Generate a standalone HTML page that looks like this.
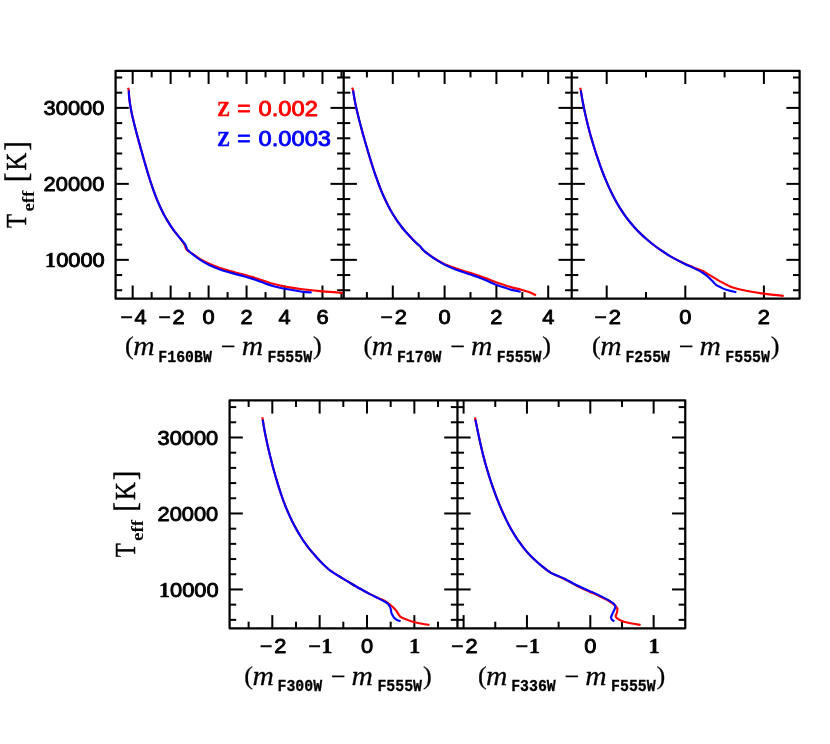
<!DOCTYPE html>
<html><head><meta charset="utf-8"><title>Teff vs colour</title>
<style>
html,body{margin:0;padding:0;background:#fff;}
body{width:830px;height:744px;overflow:hidden;font-family:"Liberation Sans",sans-serif;}
svg{display:block;}
</style></head><body>
<svg width="830" height="744" viewBox="0 0 830 744">
<rect width="830" height="744" fill="#fff"/>
<g fill="none" stroke="#000" stroke-width="2.25" stroke-linejoin="round">
<rect x="115.60" y="70.80" width="684.00" height="227.90"/>
<line stroke-linecap="butt" x1="343.70" y1="70.80" x2="343.70" y2="298.70"/>
<line stroke-linecap="butt" x1="571.70" y1="70.80" x2="571.70" y2="298.70"/>
</g>
<g fill="none" stroke="#000" stroke-width="2.25" stroke-linejoin="round">
<rect x="229.60" y="400.40" width="455.65" height="227.90"/>
<line stroke-linecap="butt" x1="457.45" y1="400.40" x2="457.45" y2="628.30"/>
</g>
<g stroke="#000" stroke-width="2.00" stroke-linecap="butt">
<line x1="115.60" y1="290.24" x2="122.20" y2="290.24"/>
<line x1="343.70" y1="290.24" x2="337.10" y2="290.24"/>
<line x1="115.60" y1="275.05" x2="122.20" y2="275.05"/>
<line x1="343.70" y1="275.05" x2="337.10" y2="275.05"/>
<line x1="115.60" y1="259.85" x2="128.80" y2="259.85"/>
<line x1="343.70" y1="259.85" x2="330.50" y2="259.85"/>
<line x1="115.60" y1="244.65" x2="122.20" y2="244.65"/>
<line x1="343.70" y1="244.65" x2="337.10" y2="244.65"/>
<line x1="115.60" y1="229.46" x2="122.20" y2="229.46"/>
<line x1="343.70" y1="229.46" x2="337.10" y2="229.46"/>
<line x1="115.60" y1="214.26" x2="122.20" y2="214.26"/>
<line x1="343.70" y1="214.26" x2="337.10" y2="214.26"/>
<line x1="115.60" y1="199.07" x2="122.20" y2="199.07"/>
<line x1="343.70" y1="199.07" x2="337.10" y2="199.07"/>
<line x1="115.60" y1="183.87" x2="128.80" y2="183.87"/>
<line x1="343.70" y1="183.87" x2="330.50" y2="183.87"/>
<line x1="115.60" y1="168.67" x2="122.20" y2="168.67"/>
<line x1="343.70" y1="168.67" x2="337.10" y2="168.67"/>
<line x1="115.60" y1="153.48" x2="122.20" y2="153.48"/>
<line x1="343.70" y1="153.48" x2="337.10" y2="153.48"/>
<line x1="115.60" y1="138.28" x2="122.20" y2="138.28"/>
<line x1="343.70" y1="138.28" x2="337.10" y2="138.28"/>
<line x1="115.60" y1="123.09" x2="122.20" y2="123.09"/>
<line x1="343.70" y1="123.09" x2="337.10" y2="123.09"/>
<line x1="115.60" y1="107.89" x2="128.80" y2="107.89"/>
<line x1="343.70" y1="107.89" x2="330.50" y2="107.89"/>
<line x1="115.60" y1="92.69" x2="122.20" y2="92.69"/>
<line x1="343.70" y1="92.69" x2="337.10" y2="92.69"/>
<line x1="115.60" y1="77.50" x2="122.20" y2="77.50"/>
<line x1="343.70" y1="77.50" x2="337.10" y2="77.50"/>
<line x1="343.70" y1="290.24" x2="350.30" y2="290.24"/>
<line x1="571.70" y1="290.24" x2="565.10" y2="290.24"/>
<line x1="343.70" y1="275.05" x2="350.30" y2="275.05"/>
<line x1="571.70" y1="275.05" x2="565.10" y2="275.05"/>
<line x1="343.70" y1="259.85" x2="356.90" y2="259.85"/>
<line x1="571.70" y1="259.85" x2="558.50" y2="259.85"/>
<line x1="343.70" y1="244.65" x2="350.30" y2="244.65"/>
<line x1="571.70" y1="244.65" x2="565.10" y2="244.65"/>
<line x1="343.70" y1="229.46" x2="350.30" y2="229.46"/>
<line x1="571.70" y1="229.46" x2="565.10" y2="229.46"/>
<line x1="343.70" y1="214.26" x2="350.30" y2="214.26"/>
<line x1="571.70" y1="214.26" x2="565.10" y2="214.26"/>
<line x1="343.70" y1="199.07" x2="350.30" y2="199.07"/>
<line x1="571.70" y1="199.07" x2="565.10" y2="199.07"/>
<line x1="343.70" y1="183.87" x2="356.90" y2="183.87"/>
<line x1="571.70" y1="183.87" x2="558.50" y2="183.87"/>
<line x1="343.70" y1="168.67" x2="350.30" y2="168.67"/>
<line x1="571.70" y1="168.67" x2="565.10" y2="168.67"/>
<line x1="343.70" y1="153.48" x2="350.30" y2="153.48"/>
<line x1="571.70" y1="153.48" x2="565.10" y2="153.48"/>
<line x1="343.70" y1="138.28" x2="350.30" y2="138.28"/>
<line x1="571.70" y1="138.28" x2="565.10" y2="138.28"/>
<line x1="343.70" y1="123.09" x2="350.30" y2="123.09"/>
<line x1="571.70" y1="123.09" x2="565.10" y2="123.09"/>
<line x1="343.70" y1="107.89" x2="356.90" y2="107.89"/>
<line x1="571.70" y1="107.89" x2="558.50" y2="107.89"/>
<line x1="343.70" y1="92.69" x2="350.30" y2="92.69"/>
<line x1="571.70" y1="92.69" x2="565.10" y2="92.69"/>
<line x1="343.70" y1="77.50" x2="350.30" y2="77.50"/>
<line x1="571.70" y1="77.50" x2="565.10" y2="77.50"/>
<line x1="571.70" y1="290.24" x2="578.30" y2="290.24"/>
<line x1="799.60" y1="290.24" x2="793.00" y2="290.24"/>
<line x1="571.70" y1="275.05" x2="578.30" y2="275.05"/>
<line x1="799.60" y1="275.05" x2="793.00" y2="275.05"/>
<line x1="571.70" y1="259.85" x2="584.90" y2="259.85"/>
<line x1="799.60" y1="259.85" x2="786.40" y2="259.85"/>
<line x1="571.70" y1="244.65" x2="578.30" y2="244.65"/>
<line x1="799.60" y1="244.65" x2="793.00" y2="244.65"/>
<line x1="571.70" y1="229.46" x2="578.30" y2="229.46"/>
<line x1="799.60" y1="229.46" x2="793.00" y2="229.46"/>
<line x1="571.70" y1="214.26" x2="578.30" y2="214.26"/>
<line x1="799.60" y1="214.26" x2="793.00" y2="214.26"/>
<line x1="571.70" y1="199.07" x2="578.30" y2="199.07"/>
<line x1="799.60" y1="199.07" x2="793.00" y2="199.07"/>
<line x1="571.70" y1="183.87" x2="584.90" y2="183.87"/>
<line x1="799.60" y1="183.87" x2="786.40" y2="183.87"/>
<line x1="571.70" y1="168.67" x2="578.30" y2="168.67"/>
<line x1="799.60" y1="168.67" x2="793.00" y2="168.67"/>
<line x1="571.70" y1="153.48" x2="578.30" y2="153.48"/>
<line x1="799.60" y1="153.48" x2="793.00" y2="153.48"/>
<line x1="571.70" y1="138.28" x2="578.30" y2="138.28"/>
<line x1="799.60" y1="138.28" x2="793.00" y2="138.28"/>
<line x1="571.70" y1="123.09" x2="578.30" y2="123.09"/>
<line x1="799.60" y1="123.09" x2="793.00" y2="123.09"/>
<line x1="571.70" y1="107.89" x2="584.90" y2="107.89"/>
<line x1="799.60" y1="107.89" x2="786.40" y2="107.89"/>
<line x1="571.70" y1="92.69" x2="578.30" y2="92.69"/>
<line x1="799.60" y1="92.69" x2="793.00" y2="92.69"/>
<line x1="571.70" y1="77.50" x2="578.30" y2="77.50"/>
<line x1="799.60" y1="77.50" x2="793.00" y2="77.50"/>
<line x1="229.60" y1="619.84" x2="236.20" y2="619.84"/>
<line x1="457.45" y1="619.84" x2="450.85" y2="619.84"/>
<line x1="229.60" y1="604.65" x2="236.20" y2="604.65"/>
<line x1="457.45" y1="604.65" x2="450.85" y2="604.65"/>
<line x1="229.60" y1="589.45" x2="242.80" y2="589.45"/>
<line x1="457.45" y1="589.45" x2="444.25" y2="589.45"/>
<line x1="229.60" y1="574.25" x2="236.20" y2="574.25"/>
<line x1="457.45" y1="574.25" x2="450.85" y2="574.25"/>
<line x1="229.60" y1="559.06" x2="236.20" y2="559.06"/>
<line x1="457.45" y1="559.06" x2="450.85" y2="559.06"/>
<line x1="229.60" y1="543.86" x2="236.20" y2="543.86"/>
<line x1="457.45" y1="543.86" x2="450.85" y2="543.86"/>
<line x1="229.60" y1="528.67" x2="236.20" y2="528.67"/>
<line x1="457.45" y1="528.67" x2="450.85" y2="528.67"/>
<line x1="229.60" y1="513.47" x2="242.80" y2="513.47"/>
<line x1="457.45" y1="513.47" x2="444.25" y2="513.47"/>
<line x1="229.60" y1="498.27" x2="236.20" y2="498.27"/>
<line x1="457.45" y1="498.27" x2="450.85" y2="498.27"/>
<line x1="229.60" y1="483.08" x2="236.20" y2="483.08"/>
<line x1="457.45" y1="483.08" x2="450.85" y2="483.08"/>
<line x1="229.60" y1="467.88" x2="236.20" y2="467.88"/>
<line x1="457.45" y1="467.88" x2="450.85" y2="467.88"/>
<line x1="229.60" y1="452.69" x2="236.20" y2="452.69"/>
<line x1="457.45" y1="452.69" x2="450.85" y2="452.69"/>
<line x1="229.60" y1="437.49" x2="242.80" y2="437.49"/>
<line x1="457.45" y1="437.49" x2="444.25" y2="437.49"/>
<line x1="229.60" y1="422.29" x2="236.20" y2="422.29"/>
<line x1="457.45" y1="422.29" x2="450.85" y2="422.29"/>
<line x1="229.60" y1="407.10" x2="236.20" y2="407.10"/>
<line x1="457.45" y1="407.10" x2="450.85" y2="407.10"/>
<line x1="457.45" y1="619.84" x2="464.05" y2="619.84"/>
<line x1="685.25" y1="619.84" x2="678.65" y2="619.84"/>
<line x1="457.45" y1="604.65" x2="464.05" y2="604.65"/>
<line x1="685.25" y1="604.65" x2="678.65" y2="604.65"/>
<line x1="457.45" y1="589.45" x2="470.65" y2="589.45"/>
<line x1="685.25" y1="589.45" x2="672.05" y2="589.45"/>
<line x1="457.45" y1="574.25" x2="464.05" y2="574.25"/>
<line x1="685.25" y1="574.25" x2="678.65" y2="574.25"/>
<line x1="457.45" y1="559.06" x2="464.05" y2="559.06"/>
<line x1="685.25" y1="559.06" x2="678.65" y2="559.06"/>
<line x1="457.45" y1="543.86" x2="464.05" y2="543.86"/>
<line x1="685.25" y1="543.86" x2="678.65" y2="543.86"/>
<line x1="457.45" y1="528.67" x2="464.05" y2="528.67"/>
<line x1="685.25" y1="528.67" x2="678.65" y2="528.67"/>
<line x1="457.45" y1="513.47" x2="470.65" y2="513.47"/>
<line x1="685.25" y1="513.47" x2="672.05" y2="513.47"/>
<line x1="457.45" y1="498.27" x2="464.05" y2="498.27"/>
<line x1="685.25" y1="498.27" x2="678.65" y2="498.27"/>
<line x1="457.45" y1="483.08" x2="464.05" y2="483.08"/>
<line x1="685.25" y1="483.08" x2="678.65" y2="483.08"/>
<line x1="457.45" y1="467.88" x2="464.05" y2="467.88"/>
<line x1="685.25" y1="467.88" x2="678.65" y2="467.88"/>
<line x1="457.45" y1="452.69" x2="464.05" y2="452.69"/>
<line x1="685.25" y1="452.69" x2="678.65" y2="452.69"/>
<line x1="457.45" y1="437.49" x2="470.65" y2="437.49"/>
<line x1="685.25" y1="437.49" x2="672.05" y2="437.49"/>
<line x1="457.45" y1="422.29" x2="464.05" y2="422.29"/>
<line x1="685.25" y1="422.29" x2="678.65" y2="422.29"/>
<line x1="457.45" y1="407.10" x2="464.05" y2="407.10"/>
<line x1="685.25" y1="407.10" x2="678.65" y2="407.10"/>
<line x1="132.68" y1="70.80" x2="132.68" y2="84.00"/>
<line x1="132.68" y1="298.70" x2="132.68" y2="285.50"/>
<line x1="151.66" y1="70.80" x2="151.66" y2="77.40"/>
<line x1="151.66" y1="298.70" x2="151.66" y2="292.10"/>
<line x1="170.64" y1="70.80" x2="170.64" y2="84.00"/>
<line x1="170.64" y1="298.70" x2="170.64" y2="285.50"/>
<line x1="189.62" y1="70.80" x2="189.62" y2="77.40"/>
<line x1="189.62" y1="298.70" x2="189.62" y2="292.10"/>
<line x1="208.60" y1="70.80" x2="208.60" y2="84.00"/>
<line x1="208.60" y1="298.70" x2="208.60" y2="285.50"/>
<line x1="227.58" y1="70.80" x2="227.58" y2="77.40"/>
<line x1="227.58" y1="298.70" x2="227.58" y2="292.10"/>
<line x1="246.56" y1="70.80" x2="246.56" y2="84.00"/>
<line x1="246.56" y1="298.70" x2="246.56" y2="285.50"/>
<line x1="265.54" y1="70.80" x2="265.54" y2="77.40"/>
<line x1="265.54" y1="298.70" x2="265.54" y2="292.10"/>
<line x1="284.52" y1="70.80" x2="284.52" y2="84.00"/>
<line x1="284.52" y1="298.70" x2="284.52" y2="285.50"/>
<line x1="303.50" y1="70.80" x2="303.50" y2="77.40"/>
<line x1="303.50" y1="298.70" x2="303.50" y2="292.10"/>
<line x1="322.48" y1="70.80" x2="322.48" y2="84.00"/>
<line x1="322.48" y1="298.70" x2="322.48" y2="285.50"/>
<line x1="341.46" y1="70.80" x2="341.46" y2="77.40"/>
<line x1="341.46" y1="298.70" x2="341.46" y2="292.10"/>
<line x1="366.90" y1="70.80" x2="366.90" y2="77.40"/>
<line x1="366.90" y1="298.70" x2="366.90" y2="292.10"/>
<line x1="392.80" y1="70.80" x2="392.80" y2="84.00"/>
<line x1="392.80" y1="298.70" x2="392.80" y2="285.50"/>
<line x1="418.70" y1="70.80" x2="418.70" y2="77.40"/>
<line x1="418.70" y1="298.70" x2="418.70" y2="292.10"/>
<line x1="444.60" y1="70.80" x2="444.60" y2="84.00"/>
<line x1="444.60" y1="298.70" x2="444.60" y2="285.50"/>
<line x1="470.50" y1="70.80" x2="470.50" y2="77.40"/>
<line x1="470.50" y1="298.70" x2="470.50" y2="292.10"/>
<line x1="496.40" y1="70.80" x2="496.40" y2="84.00"/>
<line x1="496.40" y1="298.70" x2="496.40" y2="285.50"/>
<line x1="522.30" y1="70.80" x2="522.30" y2="77.40"/>
<line x1="522.30" y1="298.70" x2="522.30" y2="292.10"/>
<line x1="548.20" y1="70.80" x2="548.20" y2="84.00"/>
<line x1="548.20" y1="298.70" x2="548.20" y2="285.50"/>
<line x1="606.70" y1="70.80" x2="606.70" y2="84.00"/>
<line x1="606.70" y1="298.70" x2="606.70" y2="285.50"/>
<line x1="646.00" y1="70.80" x2="646.00" y2="77.40"/>
<line x1="646.00" y1="298.70" x2="646.00" y2="292.10"/>
<line x1="685.30" y1="70.80" x2="685.30" y2="84.00"/>
<line x1="685.30" y1="298.70" x2="685.30" y2="285.50"/>
<line x1="724.60" y1="70.80" x2="724.60" y2="77.40"/>
<line x1="724.60" y1="298.70" x2="724.60" y2="292.10"/>
<line x1="763.90" y1="70.80" x2="763.90" y2="84.00"/>
<line x1="763.90" y1="298.70" x2="763.90" y2="285.50"/>
<line x1="248.62" y1="400.40" x2="248.62" y2="407.00"/>
<line x1="248.62" y1="628.30" x2="248.62" y2="621.70"/>
<line x1="272.30" y1="400.40" x2="272.30" y2="413.60"/>
<line x1="272.30" y1="628.30" x2="272.30" y2="615.10"/>
<line x1="295.98" y1="400.40" x2="295.98" y2="407.00"/>
<line x1="295.98" y1="628.30" x2="295.98" y2="621.70"/>
<line x1="319.65" y1="400.40" x2="319.65" y2="413.60"/>
<line x1="319.65" y1="628.30" x2="319.65" y2="615.10"/>
<line x1="343.32" y1="400.40" x2="343.32" y2="407.00"/>
<line x1="343.32" y1="628.30" x2="343.32" y2="621.70"/>
<line x1="367.00" y1="400.40" x2="367.00" y2="413.60"/>
<line x1="367.00" y1="628.30" x2="367.00" y2="615.10"/>
<line x1="390.68" y1="400.40" x2="390.68" y2="407.00"/>
<line x1="390.68" y1="628.30" x2="390.68" y2="621.70"/>
<line x1="414.35" y1="400.40" x2="414.35" y2="413.60"/>
<line x1="414.35" y1="628.30" x2="414.35" y2="615.10"/>
<line x1="438.02" y1="400.40" x2="438.02" y2="407.00"/>
<line x1="438.02" y1="628.30" x2="438.02" y2="621.70"/>
<line x1="463.60" y1="400.40" x2="463.60" y2="413.60"/>
<line x1="463.60" y1="628.30" x2="463.60" y2="615.10"/>
<line x1="495.27" y1="400.40" x2="495.27" y2="407.00"/>
<line x1="495.27" y1="628.30" x2="495.27" y2="621.70"/>
<line x1="526.95" y1="400.40" x2="526.95" y2="413.60"/>
<line x1="526.95" y1="628.30" x2="526.95" y2="615.10"/>
<line x1="558.62" y1="400.40" x2="558.62" y2="407.00"/>
<line x1="558.62" y1="628.30" x2="558.62" y2="621.70"/>
<line x1="590.30" y1="400.40" x2="590.30" y2="413.60"/>
<line x1="590.30" y1="628.30" x2="590.30" y2="615.10"/>
<line x1="621.97" y1="400.40" x2="621.97" y2="407.00"/>
<line x1="621.97" y1="628.30" x2="621.97" y2="621.70"/>
<line x1="653.65" y1="400.40" x2="653.65" y2="413.60"/>
<line x1="653.65" y1="628.30" x2="653.65" y2="615.10"/>
</g>
<g fill="none" stroke-width="2.15" stroke-linejoin="round" stroke-linecap="butt">
<path stroke="#ff0000" d="M128.05 87.70 C128.17 88.15 128.59 88.96 128.76 90.40 C128.94 91.84 128.92 94.36 129.09 96.34 C129.26 98.32 129.50 100.30 129.78 102.28 C130.05 104.26 130.39 106.24 130.75 108.22 C131.11 110.20 131.51 112.18 131.93 114.16 C132.35 116.14 132.81 118.12 133.28 120.10 C133.75 122.08 134.24 124.06 134.74 126.04 C135.24 128.02 135.76 130.00 136.28 131.98 C136.80 133.96 137.34 135.94 137.87 137.92 C138.41 139.90 138.95 141.88 139.50 143.86 C140.04 145.84 140.59 147.82 141.14 149.80 C141.70 151.78 142.25 153.76 142.81 155.74 C143.37 157.72 143.93 159.70 144.50 161.68 C145.07 163.66 145.64 165.64 146.22 167.62 C146.80 169.60 147.38 171.58 147.99 173.56 C148.59 175.54 149.20 177.52 149.83 179.50 C150.46 181.48 151.10 183.46 151.77 185.44 C152.44 187.42 153.12 189.40 153.84 191.38 C154.56 193.36 155.30 195.34 156.09 197.32 C156.87 199.30 157.69 201.28 158.55 203.26 C159.41 205.24 160.31 207.22 161.27 209.20 C162.23 211.18 163.23 213.16 164.30 215.14 C165.37 217.12 166.49 219.10 167.69 221.08 C168.89 223.06 170.15 225.04 171.50 227.02 C172.85 229.00 174.27 230.98 175.78 232.96 C177.30 234.94 179.12 236.89 180.60 238.90 C182.09 240.91 183.68 243.17 184.70 245.00 C185.72 246.83 185.38 248.42 186.70 249.90 C188.02 251.38 190.28 252.32 192.60 253.90 C194.92 255.48 197.92 257.82 200.60 259.40 C203.28 260.98 205.47 261.98 208.70 263.40 C211.93 264.82 216.45 266.62 220.00 267.90 C223.55 269.18 224.72 269.62 230.00 271.10 C235.28 272.58 244.72 274.73 251.70 276.80 C258.68 278.87 265.88 281.78 271.90 283.50 C277.92 285.22 282.73 286.13 287.80 287.10 C292.87 288.07 296.52 288.58 302.30 289.30 C308.08 290.02 315.73 290.80 322.50 291.40 C329.27 292.00 339.50 292.65 342.90 292.90"/>
<path stroke="#0000ff" d="M128.76 90.40 C128.82 91.39 128.92 94.36 129.09 96.34 C129.26 98.32 129.50 100.30 129.78 102.28 C130.05 104.26 130.39 106.24 130.75 108.22 C131.11 110.20 131.51 112.18 131.93 114.16 C132.35 116.14 132.81 118.12 133.28 120.10 C133.75 122.08 134.24 124.06 134.74 126.04 C135.24 128.02 135.76 130.00 136.28 131.98 C136.80 133.96 137.34 135.94 137.87 137.92 C138.41 139.90 138.95 141.88 139.50 143.86 C140.04 145.84 140.59 147.82 141.14 149.80 C141.70 151.78 142.25 153.76 142.81 155.74 C143.37 157.72 143.93 159.70 144.50 161.68 C145.07 163.66 145.64 165.64 146.22 167.62 C146.80 169.60 147.38 171.58 147.99 173.56 C148.59 175.54 149.20 177.52 149.83 179.50 C150.46 181.48 151.10 183.46 151.77 185.44 C152.44 187.42 153.12 189.40 153.84 191.38 C154.56 193.36 155.30 195.34 156.09 197.32 C156.87 199.30 157.69 201.28 158.55 203.26 C159.41 205.24 160.31 207.22 161.27 209.20 C162.23 211.18 163.23 213.16 164.30 215.14 C165.37 217.12 166.49 219.10 167.69 221.08 C168.89 223.06 170.15 225.04 171.50 227.02 C172.85 229.00 174.27 230.98 175.78 232.96 C177.30 234.94 179.02 236.98 180.60 238.90 C182.19 240.82 184.17 242.70 185.30 244.50 C186.43 246.30 186.18 248.08 187.40 249.70 C188.62 251.32 190.40 252.45 192.60 254.20 C194.80 255.95 197.92 258.45 200.60 260.20 C203.28 261.95 205.47 263.15 208.70 264.70 C211.93 266.25 216.45 268.18 220.00 269.50 C223.55 270.82 225.92 271.43 230.00 272.60 C234.08 273.77 240.17 275.28 244.50 276.50 C248.83 277.72 251.43 278.37 256.00 279.90 C260.57 281.43 266.60 284.13 271.90 285.70 C277.20 287.27 282.73 288.30 287.80 289.30 C292.87 290.30 298.32 291.17 302.30 291.70 C306.28 292.23 310.13 292.37 311.70 292.50"/>
<path stroke="#ff0000" d="M352.10 87.70 C352.27 88.15 352.79 88.98 353.11 90.40 C353.43 91.83 353.68 94.30 354.01 96.25 C354.34 98.20 354.71 100.15 355.09 102.10 C355.48 104.05 355.89 106.00 356.32 107.95 C356.75 109.90 357.21 111.85 357.67 113.80 C358.14 115.75 358.62 117.70 359.12 119.65 C359.61 121.60 360.12 123.55 360.64 125.50 C361.15 127.45 361.68 129.40 362.21 131.35 C362.75 133.30 363.29 135.25 363.84 137.20 C364.39 139.15 364.94 141.10 365.50 143.05 C366.06 145.00 366.63 146.95 367.20 148.90 C367.77 150.85 368.35 152.80 368.94 154.75 C369.53 156.70 370.12 158.65 370.73 160.60 C371.33 162.55 371.94 164.50 372.57 166.45 C373.20 168.40 373.83 170.35 374.49 172.30 C375.14 174.25 375.81 176.20 376.50 178.15 C377.19 180.10 377.90 182.05 378.63 184.00 C379.37 185.95 380.13 187.90 380.92 189.85 C381.71 191.80 382.53 193.75 383.39 195.70 C384.26 197.65 385.15 199.60 386.09 201.55 C387.04 203.50 388.02 205.45 389.07 207.40 C390.11 209.35 391.20 211.30 392.36 213.25 C393.53 215.20 394.74 217.15 396.04 219.10 C397.33 221.05 398.69 223.00 400.15 224.95 C401.60 226.90 402.37 228.08 404.76 230.80 C407.15 233.53 412.06 238.80 414.50 241.30 C416.94 243.80 417.92 244.32 419.40 245.80 C420.88 247.28 421.90 248.80 423.40 250.20 C424.90 251.60 426.15 252.57 428.40 254.20 C430.65 255.83 434.08 258.28 436.90 260.00 C439.72 261.72 442.50 263.23 445.30 264.50 C448.10 265.77 450.88 266.62 453.70 267.60 C456.52 268.58 459.38 269.48 462.20 270.40 C465.02 271.32 467.80 272.20 470.60 273.10 C473.40 274.00 476.18 274.85 479.00 275.80 C481.82 276.75 484.68 277.73 487.50 278.80 C490.32 279.87 493.10 281.17 495.90 282.20 C498.70 283.23 501.50 284.10 504.30 285.00 C507.10 285.90 509.88 286.82 512.70 287.60 C515.52 288.38 518.38 288.92 521.20 289.70 C524.02 290.48 527.13 291.35 529.60 292.30 C532.07 293.25 534.93 294.88 536.00 295.40"/>
<path stroke="#0000ff" d="M353.11 90.40 C353.26 91.38 353.68 94.30 354.01 96.25 C354.34 98.20 354.71 100.15 355.09 102.10 C355.48 104.05 355.89 106.00 356.32 107.95 C356.75 109.90 357.21 111.85 357.67 113.80 C358.14 115.75 358.62 117.70 359.12 119.65 C359.61 121.60 360.12 123.55 360.64 125.50 C361.15 127.45 361.68 129.40 362.21 131.35 C362.75 133.30 363.29 135.25 363.84 137.20 C364.39 139.15 364.94 141.10 365.50 143.05 C366.06 145.00 366.63 146.95 367.20 148.90 C367.77 150.85 368.35 152.80 368.94 154.75 C369.53 156.70 370.12 158.65 370.73 160.60 C371.33 162.55 371.94 164.50 372.57 166.45 C373.20 168.40 373.83 170.35 374.49 172.30 C375.14 174.25 375.81 176.20 376.50 178.15 C377.19 180.10 377.90 182.05 378.63 184.00 C379.37 185.95 380.13 187.90 380.92 189.85 C381.71 191.80 382.53 193.75 383.39 195.70 C384.26 197.65 385.15 199.60 386.09 201.55 C387.04 203.50 388.02 205.45 389.07 207.40 C390.11 209.35 391.20 211.30 392.36 213.25 C393.53 215.20 394.74 217.15 396.04 219.10 C397.33 221.05 398.69 223.00 400.15 224.95 C401.60 226.90 402.37 228.08 404.76 230.80 C407.15 233.53 412.06 238.83 414.50 241.30 C416.94 243.77 417.92 244.12 419.40 245.60 C420.88 247.08 421.90 248.75 423.40 250.20 C424.90 251.65 426.15 252.63 428.40 254.30 C430.65 255.97 434.08 258.42 436.90 260.20 C439.72 261.98 442.50 263.58 445.30 265.00 C448.10 266.42 450.88 267.58 453.70 268.70 C456.52 269.82 459.38 270.72 462.20 271.70 C465.02 272.68 467.80 273.65 470.60 274.60 C473.40 275.55 476.18 276.33 479.00 277.40 C481.82 278.47 484.68 279.78 487.50 281.00 C490.32 282.22 493.10 283.60 495.90 284.70 C498.70 285.80 501.50 286.70 504.30 287.60 C507.10 288.50 509.97 289.40 512.70 290.10 C515.43 290.80 519.37 291.52 520.70 291.80"/>
<path stroke="#ff0000" d="M580.15 87.70 C580.26 88.15 580.55 88.96 580.81 90.40 C581.08 91.84 581.42 94.36 581.76 96.34 C582.09 98.31 582.44 100.29 582.81 102.27 C583.18 104.25 583.57 106.23 583.97 108.21 C584.38 110.19 584.80 112.16 585.24 114.14 C585.68 116.12 586.14 118.10 586.61 120.08 C587.08 122.06 587.57 124.04 588.08 126.01 C588.58 127.99 589.10 129.97 589.64 131.95 C590.17 133.93 590.72 135.91 591.29 137.89 C591.85 139.86 592.43 141.84 593.03 143.82 C593.62 145.80 594.23 147.78 594.85 149.76 C595.48 151.74 596.11 153.71 596.77 155.69 C597.43 157.67 598.10 159.65 598.78 161.63 C599.47 163.61 600.18 165.59 600.91 167.56 C601.63 169.54 602.38 171.52 603.15 173.50 C603.92 175.48 604.71 177.46 605.53 179.44 C606.36 181.41 607.20 183.39 608.08 185.37 C608.97 187.35 609.88 189.33 610.83 191.31 C611.78 193.29 612.77 195.26 613.81 197.24 C614.85 199.22 615.93 201.20 617.07 203.18 C618.22 205.16 619.40 207.14 620.67 209.11 C621.93 211.09 623.25 213.07 624.66 215.05 C626.07 217.03 627.54 219.01 629.12 220.99 C630.69 222.96 632.34 224.94 634.12 226.92 C635.89 228.90 637.75 230.88 639.76 232.86 C641.76 234.84 643.87 236.81 646.14 238.79 C648.41 240.77 650.80 242.75 653.37 244.73 C655.94 246.71 658.66 248.69 661.58 250.66 C664.50 252.64 667.18 254.49 670.90 256.60 C674.62 258.71 680.13 261.50 683.90 263.30 C687.67 265.10 690.07 265.97 693.50 267.40 C696.93 268.83 701.80 270.60 704.50 271.90 C707.20 273.20 707.30 273.75 709.70 275.20 C712.10 276.65 715.32 278.65 718.90 280.60 C722.48 282.55 726.38 285.17 731.20 286.90 C736.02 288.63 742.62 289.92 747.80 291.00 C752.98 292.08 757.95 292.75 762.30 293.40 C766.65 294.05 770.33 294.48 773.90 294.90 C777.47 295.32 782.07 295.73 783.70 295.90"/>
<path stroke="#0000ff" d="M580.81 90.40 C580.97 91.39 581.42 94.36 581.76 96.34 C582.09 98.31 582.44 100.29 582.81 102.27 C583.18 104.25 583.57 106.23 583.97 108.21 C584.38 110.19 584.80 112.16 585.24 114.14 C585.68 116.12 586.14 118.10 586.61 120.08 C587.08 122.06 587.57 124.04 588.08 126.01 C588.58 127.99 589.10 129.97 589.64 131.95 C590.17 133.93 590.72 135.91 591.29 137.89 C591.85 139.86 592.43 141.84 593.03 143.82 C593.62 145.80 594.23 147.78 594.85 149.76 C595.48 151.74 596.11 153.71 596.77 155.69 C597.43 157.67 598.10 159.65 598.78 161.63 C599.47 163.61 600.18 165.59 600.91 167.56 C601.63 169.54 602.38 171.52 603.15 173.50 C603.92 175.48 604.71 177.46 605.53 179.44 C606.36 181.41 607.20 183.39 608.08 185.37 C608.97 187.35 609.88 189.33 610.83 191.31 C611.78 193.29 612.77 195.26 613.81 197.24 C614.85 199.22 615.93 201.20 617.07 203.18 C618.22 205.16 619.40 207.14 620.67 209.11 C621.93 211.09 623.25 213.07 624.66 215.05 C626.07 217.03 627.54 219.01 629.12 220.99 C630.69 222.96 632.34 224.94 634.12 226.92 C635.89 228.90 637.75 230.88 639.76 232.86 C641.76 234.84 643.87 236.81 646.14 238.79 C648.41 240.77 650.80 242.75 653.37 244.73 C655.94 246.71 658.66 248.69 661.58 250.66 C664.50 252.64 667.18 254.46 670.90 256.60 C674.62 258.74 680.13 261.62 683.90 263.50 C687.67 265.38 690.43 266.40 693.50 267.90 C696.57 269.40 700.00 271.13 702.30 272.50 C704.60 273.87 705.53 274.58 707.30 276.10 C709.07 277.62 711.45 280.15 712.90 281.60 C714.35 283.05 714.82 283.90 716.00 284.80 C717.18 285.70 718.32 286.17 720.00 287.00 C721.68 287.83 723.38 288.92 726.10 289.80 C728.82 290.68 734.60 291.88 736.30 292.30"/>
<path stroke="#ff0000" d="M262.25 417.30 C262.33 417.68 262.49 418.25 262.72 419.60 C262.95 420.95 263.30 423.48 263.62 425.42 C263.95 427.36 264.30 429.30 264.66 431.24 C265.03 433.18 265.41 435.12 265.81 437.05 C266.21 438.99 266.62 440.93 267.05 442.87 C267.48 444.81 267.92 446.75 268.37 448.69 C268.82 450.63 269.28 452.57 269.76 454.51 C270.23 456.45 270.71 458.39 271.21 460.33 C271.70 462.27 272.20 464.21 272.72 466.15 C273.23 468.08 273.76 470.02 274.29 471.96 C274.83 473.90 275.38 475.84 275.94 477.78 C276.51 479.72 277.08 481.66 277.67 483.60 C278.27 485.54 278.87 487.48 279.50 489.42 C280.13 491.36 280.77 493.30 281.44 495.24 C282.12 497.18 282.80 499.12 283.52 501.05 C284.24 502.99 284.98 504.93 285.76 506.87 C286.54 508.81 287.34 510.75 288.18 512.69 C289.03 514.63 289.90 516.57 290.82 518.51 C291.74 520.45 292.70 522.39 293.70 524.33 C294.71 526.27 295.76 528.21 296.86 530.15 C297.97 532.08 299.12 534.02 300.34 535.96 C301.56 537.90 302.82 539.84 304.17 541.78 C305.51 543.72 306.46 545.18 308.38 547.60 C310.30 550.02 313.36 553.63 315.70 556.30 C318.04 558.97 320.20 561.40 322.40 563.60 C324.60 565.80 326.82 567.82 328.90 569.50 C330.98 571.18 332.68 572.27 334.90 573.70 C337.12 575.13 339.63 576.55 342.20 578.10 C344.77 579.65 347.30 581.22 350.30 583.00 C353.30 584.78 356.93 586.95 360.20 588.80 C363.47 590.65 366.83 592.53 369.90 594.10 C372.97 595.67 376.33 597.18 378.60 598.20 C380.87 599.22 381.93 599.37 383.50 600.20 C385.07 601.03 386.12 601.73 388.00 603.20 C389.88 604.67 393.03 607.15 394.80 609.00 C396.57 610.85 397.75 613.08 398.60 614.30 C399.45 615.52 399.40 615.78 399.90 616.30 C400.40 616.82 400.28 616.80 401.60 617.40 C402.92 618.00 405.55 619.08 407.80 619.90 C410.05 620.72 412.68 621.65 415.10 622.30 C417.52 622.95 419.90 623.37 422.30 623.80 C424.70 624.23 428.30 624.72 429.50 624.90"/>
<path stroke="#0000ff" d="M262.72 419.60 C262.87 420.57 263.30 423.48 263.62 425.42 C263.95 427.36 264.30 429.30 264.66 431.24 C265.03 433.18 265.41 435.12 265.81 437.05 C266.21 438.99 266.62 440.93 267.05 442.87 C267.48 444.81 267.92 446.75 268.37 448.69 C268.82 450.63 269.28 452.57 269.76 454.51 C270.23 456.45 270.71 458.39 271.21 460.33 C271.70 462.27 272.20 464.21 272.72 466.15 C273.23 468.08 273.76 470.02 274.29 471.96 C274.83 473.90 275.38 475.84 275.94 477.78 C276.51 479.72 277.08 481.66 277.67 483.60 C278.27 485.54 278.87 487.48 279.50 489.42 C280.13 491.36 280.77 493.30 281.44 495.24 C282.12 497.18 282.80 499.12 283.52 501.05 C284.24 502.99 284.98 504.93 285.76 506.87 C286.54 508.81 287.34 510.75 288.18 512.69 C289.03 514.63 289.90 516.57 290.82 518.51 C291.74 520.45 292.70 522.39 293.70 524.33 C294.71 526.27 295.76 528.21 296.86 530.15 C297.97 532.08 299.12 534.02 300.34 535.96 C301.56 537.90 302.82 539.84 304.17 541.78 C305.51 543.72 306.46 545.18 308.38 547.60 C310.30 550.02 313.36 553.63 315.70 556.30 C318.04 558.97 320.20 561.40 322.40 563.60 C324.60 565.80 326.82 567.82 328.90 569.50 C330.98 571.18 332.68 572.27 334.90 573.70 C337.12 575.13 339.63 576.55 342.20 578.10 C344.77 579.65 347.30 581.22 350.30 583.00 C353.30 584.78 356.93 586.95 360.20 588.80 C363.47 590.65 366.83 592.50 369.90 594.10 C372.97 595.70 376.15 597.15 378.60 598.40 C381.05 599.65 383.03 600.67 384.60 601.60 C386.17 602.53 387.07 603.03 388.00 604.00 C388.93 604.97 389.70 606.32 390.20 607.40 C390.70 608.48 390.77 609.50 391.00 610.50 C391.23 611.50 391.08 612.20 391.60 613.40 C392.12 614.60 393.20 616.60 394.10 617.70 C395.00 618.80 395.92 619.40 397.00 620.00 C398.08 620.60 400.00 621.08 400.60 621.30"/>
<path stroke="#ff0000" d="M475.05 417.30 C475.11 417.68 475.13 418.24 475.38 419.60 C475.64 420.96 476.19 423.49 476.59 425.44 C476.99 427.39 477.38 429.33 477.78 431.28 C478.18 433.23 478.58 435.17 478.99 437.12 C479.40 439.07 479.82 441.01 480.25 442.96 C480.69 444.91 481.13 446.85 481.59 448.80 C482.05 450.75 482.52 452.69 483.01 454.64 C483.50 456.59 484.01 458.53 484.53 460.48 C485.06 462.43 485.60 464.37 486.16 466.32 C486.72 468.27 487.29 470.21 487.89 472.16 C488.48 474.11 489.09 476.05 489.72 478.00 C490.35 479.95 490.99 481.89 491.66 483.84 C492.32 485.79 493.00 487.73 493.70 489.68 C494.40 491.63 495.11 493.57 495.85 495.52 C496.58 497.47 497.33 499.41 498.11 501.36 C498.89 503.31 499.68 505.25 500.50 507.20 C501.33 509.15 502.17 511.09 503.05 513.04 C503.92 514.99 504.82 516.93 505.77 518.88 C506.71 520.83 507.68 522.77 508.70 524.72 C509.73 526.67 510.78 528.61 511.90 530.56 C513.03 532.51 514.19 534.45 515.44 536.40 C516.68 538.35 517.98 540.29 519.37 542.24 C520.77 544.19 522.23 546.13 523.81 548.08 C525.39 550.03 527.05 551.97 528.86 553.92 C530.66 555.87 532.56 557.81 534.64 559.76 C536.71 561.71 538.58 563.41 541.31 565.60 C544.03 567.79 547.23 570.70 551.00 572.90 C554.77 575.10 559.60 576.65 563.90 578.80 C568.20 580.95 572.50 583.62 576.80 585.80 C581.10 587.98 586.75 590.55 589.70 591.90 C592.65 593.25 591.30 592.37 594.50 593.90 C597.70 595.43 605.65 599.30 608.90 601.10 C612.15 602.90 612.60 603.50 614.00 604.70 C615.40 605.90 616.82 606.98 617.30 608.30 C617.78 609.62 617.13 611.15 616.90 612.60 C616.67 614.05 615.07 615.62 615.90 617.00 C616.73 618.38 619.45 619.87 621.90 620.90 C624.35 621.93 627.48 622.52 630.60 623.20 C633.72 623.88 638.93 624.70 640.60 625.00"/>
<path stroke="#0000ff" d="M475.38 419.60 C475.58 420.57 476.19 423.49 476.59 425.44 C476.99 427.39 477.38 429.33 477.78 431.28 C478.18 433.23 478.58 435.17 478.99 437.12 C479.40 439.07 479.82 441.01 480.25 442.96 C480.69 444.91 481.13 446.85 481.59 448.80 C482.05 450.75 482.52 452.69 483.01 454.64 C483.50 456.59 484.01 458.53 484.53 460.48 C485.06 462.43 485.60 464.37 486.16 466.32 C486.72 468.27 487.29 470.21 487.89 472.16 C488.48 474.11 489.09 476.05 489.72 478.00 C490.35 479.95 490.99 481.89 491.66 483.84 C492.32 485.79 493.00 487.73 493.70 489.68 C494.40 491.63 495.11 493.57 495.85 495.52 C496.58 497.47 497.33 499.41 498.11 501.36 C498.89 503.31 499.68 505.25 500.50 507.20 C501.33 509.15 502.17 511.09 503.05 513.04 C503.92 514.99 504.82 516.93 505.77 518.88 C506.71 520.83 507.68 522.77 508.70 524.72 C509.73 526.67 510.78 528.61 511.90 530.56 C513.03 532.51 514.19 534.45 515.44 536.40 C516.68 538.35 517.98 540.29 519.37 542.24 C520.77 544.19 522.23 546.13 523.81 548.08 C525.39 550.03 527.05 551.97 528.86 553.92 C530.66 555.87 532.56 557.81 534.64 559.76 C536.71 561.71 538.58 563.41 541.31 565.60 C544.03 567.79 547.23 570.75 551.00 572.90 C554.77 575.05 559.60 576.43 563.90 578.50 C568.20 580.57 572.50 583.18 576.80 585.30 C581.10 587.42 586.75 589.90 589.70 591.20 C592.65 592.50 591.30 591.57 594.50 593.10 C597.70 594.63 605.65 598.58 608.90 600.40 C612.15 602.22 612.92 602.92 614.00 604.00 C615.08 605.08 615.52 605.58 615.40 606.90 C615.28 608.22 614.02 610.22 613.30 611.90 C612.58 613.58 611.30 615.67 611.10 617.00 C610.90 618.33 611.57 619.18 612.10 619.90 C612.63 620.62 613.93 621.07 614.30 621.30"/>
</g>
<g opacity="0.999">
<text transform="translate(104.30 267.30) scale(1.0550 1.0000)" font-family="Liberation Sans, sans-serif" font-size="20.70" text-anchor="end" fill="#000" stroke="#000" stroke-width="0.90" stroke-linejoin="round"><tspan font-family="Liberation Serif, serif" font-weight="bold" font-size="21.53" stroke-width="0.35" dx="0.4">1</tspan>0000</text>
<text transform="translate(104.30 191.32) scale(1.0550 1.0000)" font-family="Liberation Sans, sans-serif" font-size="20.70" text-anchor="end" fill="#000" stroke="#000" stroke-width="0.90" stroke-linejoin="round">20000</text>
<text transform="translate(104.30 115.34) scale(1.0550 1.0000)" font-family="Liberation Sans, sans-serif" font-size="20.70" text-anchor="end" fill="#000" stroke="#000" stroke-width="0.90" stroke-linejoin="round">30000</text>
<text transform="translate(218.20 596.90) scale(1.0550 1.0000)" font-family="Liberation Sans, sans-serif" font-size="20.70" text-anchor="end" fill="#000" stroke="#000" stroke-width="0.90" stroke-linejoin="round"><tspan font-family="Liberation Serif, serif" font-weight="bold" font-size="21.53" stroke-width="0.35" dx="0.4">1</tspan>0000</text>
<text transform="translate(218.20 520.92) scale(1.0550 1.0000)" font-family="Liberation Sans, sans-serif" font-size="20.70" text-anchor="end" fill="#000" stroke="#000" stroke-width="0.90" stroke-linejoin="round">20000</text>
<text transform="translate(218.20 444.94) scale(1.0550 1.0000)" font-family="Liberation Sans, sans-serif" font-size="20.70" text-anchor="end" fill="#000" stroke="#000" stroke-width="0.90" stroke-linejoin="round">30000</text>
<text transform="translate(133.48 323.70) scale(1.0550 1.0000)" font-family="Liberation Sans, sans-serif" font-size="20.70" text-anchor="middle" fill="#000" stroke="#000" stroke-width="0.90" stroke-linejoin="round"><tspan stroke-width="0.35">−</tspan><tspan dx="1.6">4</tspan></text>
<text transform="translate(171.44 323.70) scale(1.0550 1.0000)" font-family="Liberation Sans, sans-serif" font-size="20.70" text-anchor="middle" fill="#000" stroke="#000" stroke-width="0.90" stroke-linejoin="round"><tspan stroke-width="0.35">−</tspan><tspan dx="1.6">2</tspan></text>
<text transform="translate(208.60 323.70) scale(1.0550 1.0000)" font-family="Liberation Sans, sans-serif" font-size="20.70" text-anchor="middle" fill="#000" stroke="#000" stroke-width="0.90" stroke-linejoin="round">0</text>
<text transform="translate(246.56 323.70) scale(1.0550 1.0000)" font-family="Liberation Sans, sans-serif" font-size="20.70" text-anchor="middle" fill="#000" stroke="#000" stroke-width="0.90" stroke-linejoin="round">2</text>
<text transform="translate(284.52 323.70) scale(1.0550 1.0000)" font-family="Liberation Sans, sans-serif" font-size="20.70" text-anchor="middle" fill="#000" stroke="#000" stroke-width="0.90" stroke-linejoin="round">4</text>
<text transform="translate(322.48 323.70) scale(1.0550 1.0000)" font-family="Liberation Sans, sans-serif" font-size="20.70" text-anchor="middle" fill="#000" stroke="#000" stroke-width="0.90" stroke-linejoin="round">6</text>
<text transform="translate(393.60 323.70) scale(1.0550 1.0000)" font-family="Liberation Sans, sans-serif" font-size="20.70" text-anchor="middle" fill="#000" stroke="#000" stroke-width="0.90" stroke-linejoin="round"><tspan stroke-width="0.35">−</tspan><tspan dx="1.6">2</tspan></text>
<text transform="translate(444.60 323.70) scale(1.0550 1.0000)" font-family="Liberation Sans, sans-serif" font-size="20.70" text-anchor="middle" fill="#000" stroke="#000" stroke-width="0.90" stroke-linejoin="round">0</text>
<text transform="translate(496.40 323.70) scale(1.0550 1.0000)" font-family="Liberation Sans, sans-serif" font-size="20.70" text-anchor="middle" fill="#000" stroke="#000" stroke-width="0.90" stroke-linejoin="round">2</text>
<text transform="translate(548.20 323.70) scale(1.0550 1.0000)" font-family="Liberation Sans, sans-serif" font-size="20.70" text-anchor="middle" fill="#000" stroke="#000" stroke-width="0.90" stroke-linejoin="round">4</text>
<text transform="translate(607.50 323.70) scale(1.0550 1.0000)" font-family="Liberation Sans, sans-serif" font-size="20.70" text-anchor="middle" fill="#000" stroke="#000" stroke-width="0.90" stroke-linejoin="round"><tspan stroke-width="0.35">−</tspan><tspan dx="1.6">2</tspan></text>
<text transform="translate(685.30 323.70) scale(1.0550 1.0000)" font-family="Liberation Sans, sans-serif" font-size="20.70" text-anchor="middle" fill="#000" stroke="#000" stroke-width="0.90" stroke-linejoin="round">0</text>
<text transform="translate(763.90 323.70) scale(1.0550 1.0000)" font-family="Liberation Sans, sans-serif" font-size="20.70" text-anchor="middle" fill="#000" stroke="#000" stroke-width="0.90" stroke-linejoin="round">2</text>
<text transform="translate(273.10 653.30) scale(1.0550 1.0000)" font-family="Liberation Sans, sans-serif" font-size="20.70" text-anchor="middle" fill="#000" stroke="#000" stroke-width="0.90" stroke-linejoin="round"><tspan stroke-width="0.35">−</tspan><tspan dx="1.6">2</tspan></text>
<text transform="translate(320.45 653.30) scale(1.0550 1.0000)" font-family="Liberation Sans, sans-serif" font-size="20.70" text-anchor="middle" fill="#000" stroke="#000" stroke-width="0.90" stroke-linejoin="round"><tspan stroke-width="0.35">−</tspan><tspan dx="1.6"><tspan font-family="Liberation Serif, serif" font-weight="bold" font-size="21.53" stroke-width="0.35" dx="0.4">1</tspan></tspan></text>
<text transform="translate(367.00 653.30) scale(1.0550 1.0000)" font-family="Liberation Sans, sans-serif" font-size="20.70" text-anchor="middle" fill="#000" stroke="#000" stroke-width="0.90" stroke-linejoin="round">0</text>
<text transform="translate(414.35 653.30) scale(1.0550 1.0000)" font-family="Liberation Sans, sans-serif" font-size="20.70" text-anchor="middle" fill="#000" stroke="#000" stroke-width="0.90" stroke-linejoin="round"><tspan font-family="Liberation Serif, serif" font-weight="bold" font-size="21.53" stroke-width="0.35" dx="0.4">1</tspan></text>
<text transform="translate(464.40 653.30) scale(1.0550 1.0000)" font-family="Liberation Sans, sans-serif" font-size="20.70" text-anchor="middle" fill="#000" stroke="#000" stroke-width="0.90" stroke-linejoin="round"><tspan stroke-width="0.35">−</tspan><tspan dx="1.6">2</tspan></text>
<text transform="translate(527.75 653.30) scale(1.0550 1.0000)" font-family="Liberation Sans, sans-serif" font-size="20.70" text-anchor="middle" fill="#000" stroke="#000" stroke-width="0.90" stroke-linejoin="round"><tspan stroke-width="0.35">−</tspan><tspan dx="1.6"><tspan font-family="Liberation Serif, serif" font-weight="bold" font-size="21.53" stroke-width="0.35" dx="0.4">1</tspan></tspan></text>
<text transform="translate(590.30 653.30) scale(1.0550 1.0000)" font-family="Liberation Sans, sans-serif" font-size="20.70" text-anchor="middle" fill="#000" stroke="#000" stroke-width="0.90" stroke-linejoin="round">0</text>
<text transform="translate(653.65 653.30) scale(1.0550 1.0000)" font-family="Liberation Sans, sans-serif" font-size="20.70" text-anchor="middle" fill="#000" stroke="#000" stroke-width="0.90" stroke-linejoin="round"><tspan font-family="Liberation Serif, serif" font-weight="bold" font-size="21.53" stroke-width="0.35" dx="0.4">1</tspan></text>
<text transform="translate(125.00 354.30) scale(0.9400 0.9300)" font-family="Liberation Serif, serif" font-size="28.00" text-anchor="start" fill="#000" stroke="#000" stroke-width="0.30" stroke-linejoin="round">(</text>
<text transform="translate(133.20 354.90) scale(1.0600 1.0000)" font-family="Liberation Serif, serif" font-style="italic" font-size="28.00" text-anchor="start" fill="#000" stroke="#000" stroke-width="0.25" stroke-linejoin="round">m</text>
<text transform="translate(158.30 361.50) scale(0.8800 1.0000)" font-family="Liberation Mono, monospace" font-weight="bold" font-size="16.90" text-anchor="start" fill="#000" stroke="#000" stroke-width="0.30" stroke-linejoin="round">F160BW</text>
<text transform="translate(221.10 354.90)" font-family="Liberation Serif, serif" font-size="26.04" text-anchor="start" fill="#000" stroke="#000" stroke-width="0.30" stroke-linejoin="round">−</text>
<text transform="translate(241.70 354.90) scale(1.0600 1.0000)" font-family="Liberation Serif, serif" font-style="italic" font-size="28.00" text-anchor="start" fill="#000" stroke="#000" stroke-width="0.25" stroke-linejoin="round">m</text>
<text transform="translate(267.50 361.50) scale(0.8800 1.0000)" font-family="Liberation Mono, monospace" font-weight="bold" font-size="16.90" text-anchor="start" fill="#000" stroke="#000" stroke-width="0.30" stroke-linejoin="round">F555W</text>
<text transform="translate(313.00 354.30) scale(0.9400 0.9300)" font-family="Liberation Serif, serif" font-size="28.00" text-anchor="start" fill="#000" stroke="#000" stroke-width="0.30" stroke-linejoin="round">)</text>
<text transform="translate(363.60 354.30) scale(0.9400 0.9300)" font-family="Liberation Serif, serif" font-size="28.00" text-anchor="start" fill="#000" stroke="#000" stroke-width="0.30" stroke-linejoin="round">(</text>
<text transform="translate(371.80 354.90) scale(1.0600 1.0000)" font-family="Liberation Serif, serif" font-style="italic" font-size="28.00" text-anchor="start" fill="#000" stroke="#000" stroke-width="0.25" stroke-linejoin="round">m</text>
<text transform="translate(396.90 361.50) scale(0.8800 1.0000)" font-family="Liberation Mono, monospace" font-weight="bold" font-size="16.90" text-anchor="start" fill="#000" stroke="#000" stroke-width="0.30" stroke-linejoin="round">F170W</text>
<text transform="translate(450.40 354.90)" font-family="Liberation Serif, serif" font-size="26.04" text-anchor="start" fill="#000" stroke="#000" stroke-width="0.30" stroke-linejoin="round">−</text>
<text transform="translate(471.00 354.90) scale(1.0600 1.0000)" font-family="Liberation Serif, serif" font-style="italic" font-size="28.00" text-anchor="start" fill="#000" stroke="#000" stroke-width="0.25" stroke-linejoin="round">m</text>
<text transform="translate(496.80 361.50) scale(0.8800 1.0000)" font-family="Liberation Mono, monospace" font-weight="bold" font-size="16.90" text-anchor="start" fill="#000" stroke="#000" stroke-width="0.30" stroke-linejoin="round">F555W</text>
<text transform="translate(542.30 354.30) scale(0.9400 0.9300)" font-family="Liberation Serif, serif" font-size="28.00" text-anchor="start" fill="#000" stroke="#000" stroke-width="0.30" stroke-linejoin="round">)</text>
<text transform="translate(592.10 354.30) scale(0.9400 0.9300)" font-family="Liberation Serif, serif" font-size="28.00" text-anchor="start" fill="#000" stroke="#000" stroke-width="0.30" stroke-linejoin="round">(</text>
<text transform="translate(600.30 354.90) scale(1.0600 1.0000)" font-family="Liberation Serif, serif" font-style="italic" font-size="28.00" text-anchor="start" fill="#000" stroke="#000" stroke-width="0.25" stroke-linejoin="round">m</text>
<text transform="translate(625.40 361.50) scale(0.8800 1.0000)" font-family="Liberation Mono, monospace" font-weight="bold" font-size="16.90" text-anchor="start" fill="#000" stroke="#000" stroke-width="0.30" stroke-linejoin="round">F255W</text>
<text transform="translate(678.90 354.90)" font-family="Liberation Serif, serif" font-size="26.04" text-anchor="start" fill="#000" stroke="#000" stroke-width="0.30" stroke-linejoin="round">−</text>
<text transform="translate(699.50 354.90) scale(1.0600 1.0000)" font-family="Liberation Serif, serif" font-style="italic" font-size="28.00" text-anchor="start" fill="#000" stroke="#000" stroke-width="0.25" stroke-linejoin="round">m</text>
<text transform="translate(725.30 361.50) scale(0.8800 1.0000)" font-family="Liberation Mono, monospace" font-weight="bold" font-size="16.90" text-anchor="start" fill="#000" stroke="#000" stroke-width="0.30" stroke-linejoin="round">F555W</text>
<text transform="translate(770.80 354.30) scale(0.9400 0.9300)" font-family="Liberation Serif, serif" font-size="28.00" text-anchor="start" fill="#000" stroke="#000" stroke-width="0.30" stroke-linejoin="round">)</text>
<text transform="translate(244.20 683.90) scale(0.9400 0.9300)" font-family="Liberation Serif, serif" font-size="28.00" text-anchor="start" fill="#000" stroke="#000" stroke-width="0.30" stroke-linejoin="round">(</text>
<text transform="translate(252.40 684.50) scale(1.0600 1.0000)" font-family="Liberation Serif, serif" font-style="italic" font-size="28.00" text-anchor="start" fill="#000" stroke="#000" stroke-width="0.25" stroke-linejoin="round">m</text>
<text transform="translate(277.50 691.10) scale(0.8800 1.0000)" font-family="Liberation Mono, monospace" font-weight="bold" font-size="16.90" text-anchor="start" fill="#000" stroke="#000" stroke-width="0.30" stroke-linejoin="round">F300W</text>
<text transform="translate(331.00 684.50)" font-family="Liberation Serif, serif" font-size="26.04" text-anchor="start" fill="#000" stroke="#000" stroke-width="0.30" stroke-linejoin="round">−</text>
<text transform="translate(351.60 684.50) scale(1.0600 1.0000)" font-family="Liberation Serif, serif" font-style="italic" font-size="28.00" text-anchor="start" fill="#000" stroke="#000" stroke-width="0.25" stroke-linejoin="round">m</text>
<text transform="translate(377.40 691.10) scale(0.8800 1.0000)" font-family="Liberation Mono, monospace" font-weight="bold" font-size="16.90" text-anchor="start" fill="#000" stroke="#000" stroke-width="0.30" stroke-linejoin="round">F555W</text>
<text transform="translate(422.90 683.90) scale(0.9400 0.9300)" font-family="Liberation Serif, serif" font-size="28.00" text-anchor="start" fill="#000" stroke="#000" stroke-width="0.30" stroke-linejoin="round">)</text>
<text transform="translate(477.90 683.90) scale(0.9400 0.9300)" font-family="Liberation Serif, serif" font-size="28.00" text-anchor="start" fill="#000" stroke="#000" stroke-width="0.30" stroke-linejoin="round">(</text>
<text transform="translate(486.10 684.50) scale(1.0600 1.0000)" font-family="Liberation Serif, serif" font-style="italic" font-size="28.00" text-anchor="start" fill="#000" stroke="#000" stroke-width="0.25" stroke-linejoin="round">m</text>
<text transform="translate(511.20 691.10) scale(0.8800 1.0000)" font-family="Liberation Mono, monospace" font-weight="bold" font-size="16.90" text-anchor="start" fill="#000" stroke="#000" stroke-width="0.30" stroke-linejoin="round">F336W</text>
<text transform="translate(564.70 684.50)" font-family="Liberation Serif, serif" font-size="26.04" text-anchor="start" fill="#000" stroke="#000" stroke-width="0.30" stroke-linejoin="round">−</text>
<text transform="translate(585.30 684.50) scale(1.0600 1.0000)" font-family="Liberation Serif, serif" font-style="italic" font-size="28.00" text-anchor="start" fill="#000" stroke="#000" stroke-width="0.25" stroke-linejoin="round">m</text>
<text transform="translate(611.10 691.10) scale(0.8800 1.0000)" font-family="Liberation Mono, monospace" font-weight="bold" font-size="16.90" text-anchor="start" fill="#000" stroke="#000" stroke-width="0.30" stroke-linejoin="round">F555W</text>
<text transform="translate(656.60 683.90) scale(0.9400 0.9300)" font-family="Liberation Serif, serif" font-size="28.00" text-anchor="start" fill="#000" stroke="#000" stroke-width="0.30" stroke-linejoin="round">)</text>
<text transform="translate(25.60 228.00) rotate(-90) scale(0.8000 1.0000)" font-family="Liberation Serif, serif" font-size="28.40" text-anchor="start" fill="#000" stroke="#000" stroke-width="0.50" stroke-linejoin="round">T</text>
<text transform="translate(34.20 211.60) rotate(-90) scale(1.1800 1.0000)" font-family="Liberation Serif, serif" font-weight="bold" font-size="16.00" text-anchor="start" fill="#000">eff</text>
<text transform="translate(26.90 182.10) rotate(-90) scale(0.9000 1.0000)" font-family="Liberation Serif, serif" font-size="30.67" text-anchor="start" fill="#000" stroke="#000" stroke-width="0.50" stroke-linejoin="round">[</text>
<text transform="translate(25.60 170.60) rotate(-90) scale(0.8700 1.0000)" font-family="Liberation Serif, serif" font-size="28.40" text-anchor="start" fill="#000" stroke="#000" stroke-width="0.50" stroke-linejoin="round">K</text>
<text transform="translate(26.90 150.60) rotate(-90) scale(0.9000 1.0000)" font-family="Liberation Serif, serif" font-size="30.67" text-anchor="start" fill="#000" stroke="#000" stroke-width="0.50" stroke-linejoin="round">]</text>
<text transform="translate(134.60 557.30) rotate(-90) scale(0.8000 1.0000)" font-family="Liberation Serif, serif" font-size="28.40" text-anchor="start" fill="#000" stroke="#000" stroke-width="0.50" stroke-linejoin="round">T</text>
<text transform="translate(143.20 540.90) rotate(-90) scale(1.1800 1.0000)" font-family="Liberation Serif, serif" font-weight="bold" font-size="16.00" text-anchor="start" fill="#000">eff</text>
<text transform="translate(135.90 511.40) rotate(-90) scale(0.9000 1.0000)" font-family="Liberation Serif, serif" font-size="30.67" text-anchor="start" fill="#000" stroke="#000" stroke-width="0.50" stroke-linejoin="round">[</text>
<text transform="translate(134.60 499.90) rotate(-90) scale(0.8700 1.0000)" font-family="Liberation Serif, serif" font-size="28.40" text-anchor="start" fill="#000" stroke="#000" stroke-width="0.50" stroke-linejoin="round">K</text>
<text transform="translate(135.90 479.90) rotate(-90) scale(0.9000 1.0000)" font-family="Liberation Serif, serif" font-size="30.67" text-anchor="start" fill="#000" stroke="#000" stroke-width="0.50" stroke-linejoin="round">]</text>
<text transform="translate(217.20 115.60) scale(0.8800 1.0000)" font-family="Liberation Serif, serif" font-weight="bold" font-size="21.60" text-anchor="start" fill="#ff0000" stroke="#ff0000" stroke-width="0.60" stroke-linejoin="round">Z</text>
<text transform="translate(237.30 115.60) scale(1.0600 1.0000)" font-family="Liberation Sans, sans-serif" font-size="21.53" text-anchor="start" fill="#ff0000" stroke="#ff0000" stroke-width="0.80" stroke-linejoin="round">=</text>
<text transform="translate(258.60 115.60) scale(1.1000 1.0000)" font-family="Liberation Sans, sans-serif" font-size="21.53" text-anchor="start" fill="#ff0000" stroke="#ff0000" stroke-width="0.90" stroke-linejoin="round">0.002</text>
<text transform="translate(217.20 146.40) scale(0.8800 1.0000)" font-family="Liberation Serif, serif" font-weight="bold" font-size="21.60" text-anchor="start" fill="#0000ff" stroke="#0000ff" stroke-width="0.60" stroke-linejoin="round">Z</text>
<text transform="translate(237.30 146.40) scale(1.0600 1.0000)" font-family="Liberation Sans, sans-serif" font-size="21.53" text-anchor="start" fill="#0000ff" stroke="#0000ff" stroke-width="0.80" stroke-linejoin="round">=</text>
<text transform="translate(258.60 146.40) scale(1.1000 1.0000)" font-family="Liberation Sans, sans-serif" font-size="21.53" text-anchor="start" fill="#0000ff" stroke="#0000ff" stroke-width="0.90" stroke-linejoin="round">0.0003</text>
</g>
</svg>
</body></html>
